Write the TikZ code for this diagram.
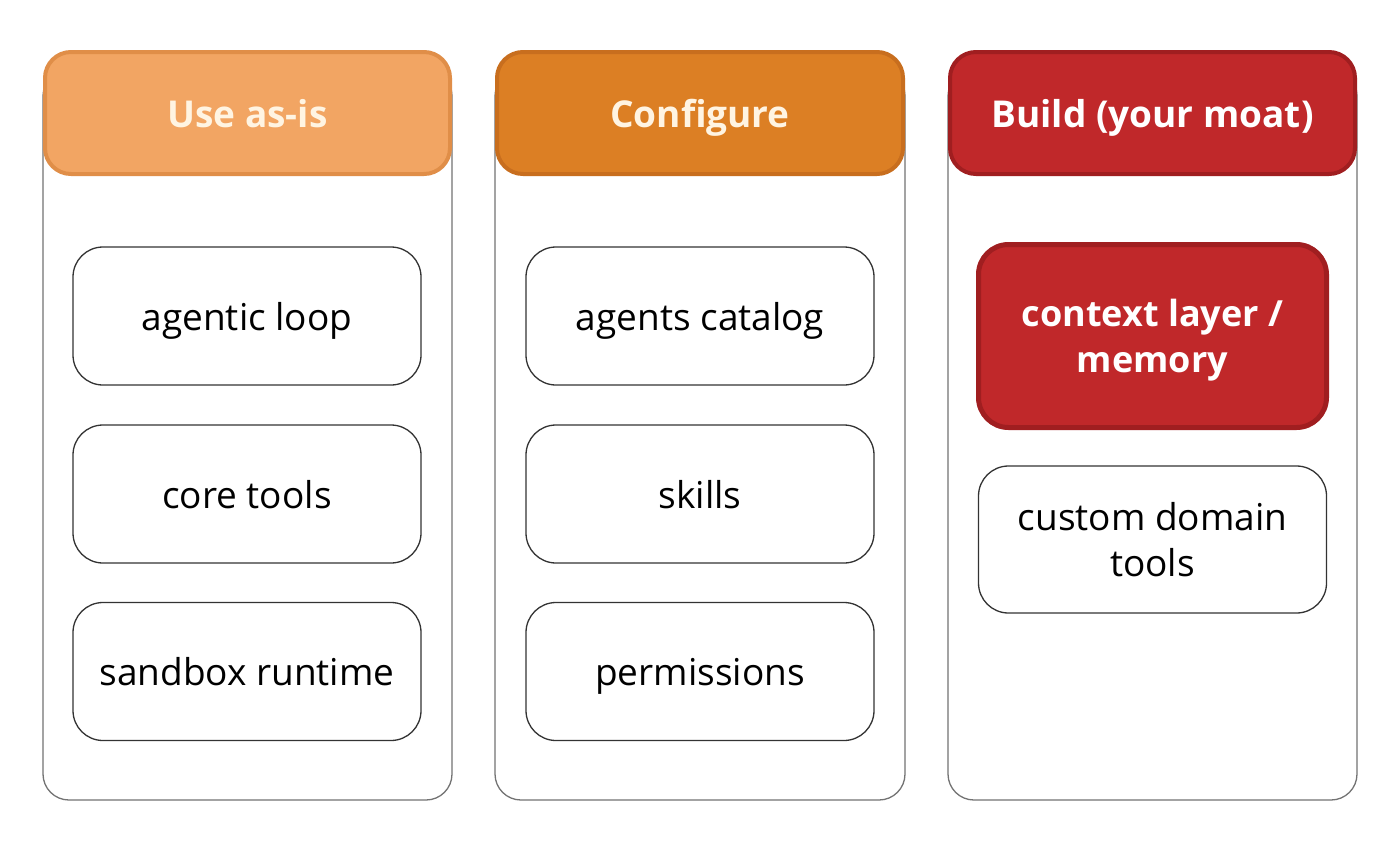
\documentclass[tikz,border=0pt]{standalone}
\usepackage{fontspec}
\setmainfont{Open Sans}
\begin{document}
\begin{tikzpicture}[x=1pt,y=-1pt,
  outer/.style={draw=black!55,line width=1.3pt,rounded corners=26pt,fill=white},
  hdr/.style={rounded corners=26pt,line width=4pt},
  hdrtext/.style={font=\bfseries\fontsize{37}{40}\selectfont,anchor=base,inner sep=0pt},
  item/.style={draw=black!80,line width=1.3pt,rounded corners=30pt,fill=white,font=\fontsize{37}{44}\selectfont,align=center,text depth=0pt},
  hot/.style={line width=5pt,rounded corners=30pt,fill=moatred,text=white,font=\bfseries\fontsize{36}{46}\selectfont,align=center,text depth=0pt}]
\definecolor{peach}{HTML}{F2A563}
\definecolor{peachd}{HTML}{E08E48}
\definecolor{orng}{HTML}{DC7F24}
\definecolor{orngd}{HTML}{C86E1E}
\definecolor{moatred}{HTML}{C0282A}
\definecolor{moatredd}{HTML}{A01E20}
\definecolor{cream}{HTML}{FFF4E2}
\useasboundingbox (0,0) rectangle (1400,841);
\fill[white] (0,0) rectangle (1400,841);
% columns
\draw[outer] (43,70) rectangle (452,800);
\draw[outer] (495,70) rectangle (905,800);
\draw[outer] (948,70) rectangle (1357,800);
% headers
\draw[hdr,fill=peach,draw=peachd] (45,52) rectangle (450,174);
\node[hdrtext,text=cream] (h1) at (247.5,127) {Use as-is};
\draw[hdr,fill=orng,draw=orngd] (497,52) rectangle (903,174);
\node[hdrtext,text=cream] (h2) at (700,127) {Configure};
\draw[hdr,fill=moatred,draw=moatredd] (950,52) rectangle (1355,174);
\node[hdrtext,text=white] (h3) at (1152.5,127) {Build (your moat)};
% items col 1
\node[item,minimum width=348pt,minimum height=138pt] (a1) at (247,316) {agentic loop};
\node[item,minimum width=348pt,minimum height=138pt] (a2) at (247,494) {core tools};
\node[item,minimum width=348pt,minimum height=138pt] (a3) at (247,671.5) {sandbox runtime};
% items col 2
\node[item,minimum width=348pt,minimum height=138pt] (b1) at (700,316) {agents catalog};
\node[item,minimum width=348pt,minimum height=138pt] (b2) at (700,494) {skills};
\node[item,minimum width=348pt,minimum height=138pt] (b3) at (700,671.5) {permissions};
% items col 3
\node[hot,draw=moatredd,minimum width=348pt,minimum height=183pt] (c1) at (1152.5,336) {context layer /\\memory};
\node[item,font=\fontsize{37}{46}\selectfont,minimum width=348pt,minimum height=147pt] (c2) at (1152.5,539.5) {custom domain\\tools};
\end{tikzpicture}
\end{document}
